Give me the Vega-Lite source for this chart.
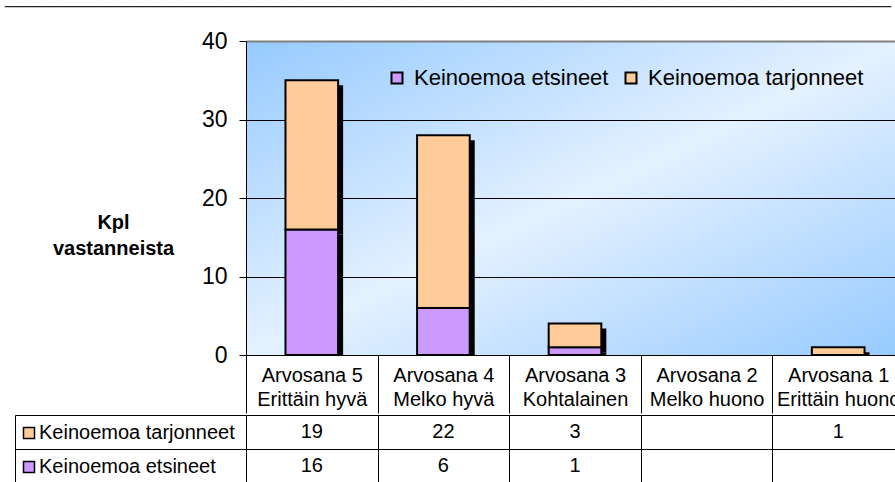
{
  "$schema": "https://vega.github.io/schema/vega-lite/v6.json",
  "padding": {"left": 5, "top": -18, "right": 0, "bottom": 0},
  "title": {
    "text": "___________________________________________________________",
    "font": "Liberation Sans",
    "fontSize": 27,
    "fontWeight": "bold",
    "color": "#222222",
    "anchor": "start",
    "frame": "group",
    "dx": -241,
    "offset": 20
  },
  "config": {
    "font": "Liberation Sans",
    "view": {"stroke": null}
  },
  "datasets": {
    "ratings": [
      {"category": "Arvosana 5 Erittäin hyvä", "series": "Keinoemoa etsineet", "value": 16},
      {"category": "Arvosana 5 Erittäin hyvä", "series": "Keinoemoa tarjonneet", "value": 19},
      {"category": "Arvosana 4 Melko hyvä", "series": "Keinoemoa etsineet", "value": 6},
      {"category": "Arvosana 4 Melko hyvä", "series": "Keinoemoa tarjonneet", "value": 22},
      {"category": "Arvosana 3 Kohtalainen", "series": "Keinoemoa etsineet", "value": 1},
      {"category": "Arvosana 3 Kohtalainen", "series": "Keinoemoa tarjonneet", "value": 3},
      {"category": "Arvosana 1 Erittäin huono", "series": "Keinoemoa tarjonneet", "value": 1}
    ]
  },
  "spacing": 0,
  "resolve": {
    "scale": {"x": "independent", "y": "independent", "color": "independent"},
    "legend": {"color": "independent"}
  },
  "vconcat": [
    {
      "width": 658,
      "height": 314,
      "view": {
        "stroke": null,
        "fill": {
          "gradient": "linear",
          "x1": 0, "y1": 0, "x2": 1, "y2": 1,
          "stops": [
            {"offset": 0, "color": "#96CAFF"},
            {"offset": 0.5, "color": "#E4F1FF"},
            {"offset": 1, "color": "#96CAFF"}
          ]
        }
      },
      "data": {"name": "ratings"},
      "encoding": {
        "x": {
          "field": "category",
          "type": "nominal",
          "scale": {
            "type": "band",
            "domain": ["Arvosana 5 Erittäin hyvä", "Arvosana 4 Melko hyvä", "Arvosana 3 Kohtalainen", "Arvosana 2 Melko huono", "Arvosana 1 Erittäin huono"],
            "paddingInner": 0,
            "paddingOuter": 0
          },
          "axis": {
            "title": null,
            "labelExpr": "[slice(datum.label, 0, 10), slice(datum.label, 11)]",
            "labelAngle": 0,
            "labelFontSize": 20,
            "labelLineHeight": 24,
            "labelPadding": -48,
            "labelBaseline": "top",
            "labelColor": "black",
            "labelLimit": 0,
            "tickBand": "extent",
            "tickSize": 58,
            "tickColor": "black",
            "domainColor": "black",
            "grid": false
          }
        },
        "y": {
          "field": "value",
          "type": "quantitative",
          "stack": "zero",
          "scale": {"domain": [0, 40], "nice": false},
          "axis": {
            "values": [0, 10, 20, 30, 40],
            "title": ["Kpl", "vastanneista"],
            "titleAngle": 0,
            "titleAlign": "center",
            "titleBaseline": "alphabetic",
            "titleX": -133,
            "titleY": 187,
            "titleFontSize": 20,
            "titleFontWeight": "bold",
            "titleLineHeight": 26,
            "titleColor": "black",
            "labelFontSize": 23,
            "labelColor": "black",
            "labelPadding": 12,
            "tickSize": 7,
            "tickColor": "black",
            "domainColor": "black",
            "grid": true,
            "gridOpacity": 1,
            "gridColor": {"condition": {"test": "datum.value === 40", "value": "#808080"}, "value": "black"},
            "gridWidth": {"condition": {"test": "datum.value === 40", "value": 2}, "value": 1}
          }
        }
      },
      "layer": [
        {
          "mark": {"type": "bar", "color": "black", "width": {"band": 0.4}, "xOffset": 5, "yOffset": 5, "clip": true}
        },
        {
          "mark": {"type": "bar", "stroke": "black", "strokeWidth": 2, "width": {"band": 0.4}},
          "encoding": {
            "order": {"field": "series", "type": "nominal", "sort": "ascending"},
            "color": {
              "field": "series",
              "type": "nominal",
              "scale": {"domain": ["Keinoemoa etsineet", "Keinoemoa tarjonneet"], "range": ["#CC99FF", "#FFCC99"]},
              "legend": {
                "orient": "none",
                "legendX": 140,
                "legendY": 26,
                "direction": "horizontal",
                "title": null,
                "symbolType": "square",
                "symbolSize": 121,
                "symbolStrokeColor": "black",
                "symbolStrokeWidth": 2,
                "labelFontSize": 22,
                "labelColor": "black",
                "labelOffset": 6,
                "labelLimit": 0,
                "columnPadding": 11,
                "gridAlign": "none",
                "padding": 0
              }
            }
          }
        }
      ]
    },
    {
      "width": 658,
      "height": 68,
      "view": {"stroke": null},
      "data": {"name": "ratings"},
      "encoding": {
        "x": {
          "field": "category",
          "type": "nominal",
          "scale": {
            "type": "band",
            "domain": ["Arvosana 5 Erittäin hyvä", "Arvosana 4 Melko hyvä", "Arvosana 3 Kohtalainen", "Arvosana 2 Melko huono", "Arvosana 1 Erittäin huono"],
            "paddingInner": 0,
            "paddingOuter": 0
          },
          "axis": {
            "title": null,
            "labels": false,
            "ticks": false,
            "domain": false,
            "grid": true,
            "gridColor": "black",
            "gridOpacity": 1,
            "tickBand": "extent"
          }
        },
        "y": {
          "field": "series",
          "type": "nominal",
          "scale": {
            "type": "band",
            "domain": ["Keinoemoa tarjonneet", "Keinoemoa etsineet"],
            "paddingInner": 0,
            "paddingOuter": 0
          },
          "axis": {
            "title": null,
            "labels": false,
            "offset": 231,
            "domain": true,
            "domainColor": "black",
            "ticks": true,
            "tickSize": -231,
            "tickColor": "black",
            "tickBand": "extent",
            "grid": true,
            "gridColor": "black",
            "gridOpacity": 1
          }
        }
      },
      "layer": [
        {
          "mark": {"type": "text", "fontSize": 20, "color": "black", "baseline": "middle"},
          "encoding": {"text": {"field": "value", "type": "quantitative"}}
        },
        {
          "mark": {"type": "text", "text": "", "stroke": "black", "strokeWidth": 1.5},
          "encoding": {
            "color": {
              "field": "series",
              "type": "nominal",
              "scale": {"domain": ["Keinoemoa tarjonneet", "Keinoemoa etsineet"], "range": ["#FFCC99", "#CC99FF"]},
              "legend": {
                "orient": "none",
                "legendX": -227,
                "legendY": 8,
                "direction": "vertical",
                "title": null,
                "symbolType": "square",
                "symbolSize": 121,
                "symbolStrokeColor": "black",
                "symbolStrokeWidth": 1.5,
                "labelFontSize": 20,
                "labelColor": "black",
                "labelOffset": 0,
                "labelLimit": 0,
                "rowPadding": 14,
                "padding": 0
              }
            }
          }
        }
      ]
    }
  ]
}
